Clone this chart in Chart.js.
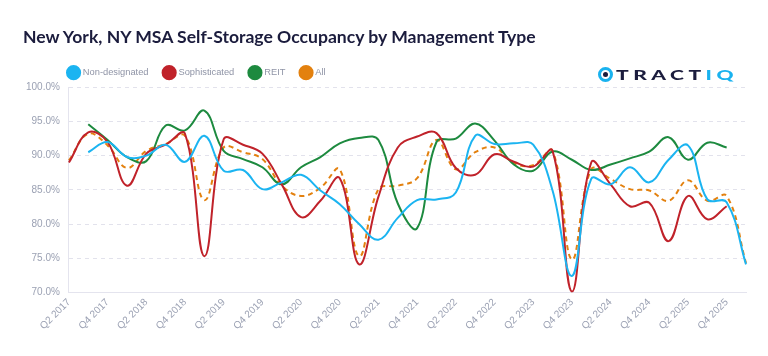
<!DOCTYPE html>
<html>
<head>
<meta charset="utf-8">
<script src="https://cdn.jsdelivr.net/npm/chart.js@4/dist/chart.umd.min.js"></script>
<style>
  html, body { margin: 0; padding: 0; background: #ffffff; }
  #wrap { position: relative; width: 768px; height: 356px; overflow: hidden; }
  #title { position: absolute; left: 23px; top: 26px; font-family: Lato, "Open Sans", sans-serif; font-weight: 700; font-size: 16.5px; color: #1b1c3d; white-space: nowrap; }
  #logo { position: absolute; left: 598px; top: 65px; height: 18px; display: flex; align-items: center; }
  #logo .icon { width: 9px; height: 9px; border-radius: 50%; border: 3px solid #19b2ef; position: relative; box-sizing: content-box; }
  #logo .icon::after { content: ""; position: absolute; left: 2px; top: 2px; width: 5px; height: 5px; border-radius: 50%; background: #1b1c3d; }
  #logo .txt { margin-left: 3px; font-family: Lato, "Open Sans", sans-serif; font-weight: 900; font-size: 14px; letter-spacing: 3px; color: #1b1c3d; white-space: nowrap; transform-origin: left center; display: inline-block; }
  #logo .txt b { color: #19b2ef; font-weight: 900; }
  canvas { position: absolute; left: 0; top: 0; }
</style>
</head>
<body>
<div id="wrap">
  <canvas id="c" width="768" height="356"></canvas>
  <div id="title">New York, NY MSA Self-Storage Occupancy by Management Type</div>
  <div id="logo"><span class="icon"></span><span class="txt" id="logotxt">TRACT<b>IQ</b></span></div>
</div>
<script>
const quarters = ["Q2 2017","Q3 2017","Q4 2017","Q1 2018","Q2 2018","Q3 2018","Q4 2018","Q1 2019","Q2 2019","Q3 2019","Q4 2019","Q1 2020","Q2 2020","Q3 2020","Q4 2020","Q1 2021","Q2 2021","Q3 2021","Q4 2021","Q1 2022","Q2 2022","Q3 2022","Q4 2022","Q1 2023","Q2 2023","Q3 2023","Q4 2023","Q1 2024","Q2 2024","Q3 2024","Q4 2024","Q1 2025","Q2 2025","Q3 2025","Q4 2025","Q1 2026"];

const nonDesignated = [null,90.5,92.0,89.8,90.0,91.6,89.1,92.9,87.8,87.9,85.1,86.1,87.2,84.9,82.9,80.0,77.7,80.9,83.5,83.6,84.6,92.9,91.7,91.8,91.6,84.9,72.4,86.6,85.8,88.3,86.1,89.4,91.5,83.6,83.2,74.1];
const sophisticated = [89.0,93.4,92.0,85.6,90.3,91.6,93.2,75.3,92.4,91.6,90.3,85.8,81.0,83.4,86.7,74.1,84.0,91.2,92.8,93.3,88.2,87.2,90.2,89.1,88.4,90.7,70.1,89.0,85.8,82.6,83.1,77.5,84.1,80.7,82.6,null];
const reit = [null,94.6,92.3,89.8,89.2,94.4,93.7,96.6,90.7,89.5,88.3,85.8,88.3,89.8,91.8,92.6,92.3,83.0,79.4,92.0,92.5,94.7,92.2,88.7,87.8,90.6,89.4,87.9,88.7,89.6,90.6,92.7,89.4,91.9,91.2,null];
const allTypes = [89.3,93.2,91.5,88.2,90.7,91.7,92.9,83.5,91.2,90.5,89.5,85.6,84.1,85.3,88.0,75.3,85.1,85.6,86.7,92.3,88.0,90.5,91.2,88.9,88.6,90.7,74.8,88.0,86.6,85.1,84.9,83.4,86.4,83.4,84.1,74.3];

const seriesNames = ["Non-designated","Sophisticated","REIT","All"];
const seriesColors = ["#1bb4f1","#c0222a","#1d8a3f","#e3810f"];
const yTicks = [70,75,80,85,90,95,100];

// fit title and logo text widths
(function(){
  const ti = document.getElementById('title');
  const tw = ti.getBoundingClientRect().width;
  ti.style.fontSize = (16.5 * 513 / tw).toFixed(2) + 'px';
  const t = document.getElementById('logotxt');
  const w = t.getBoundingClientRect().width;
  t.style.transform = 'scaleX(' + (122 / w) + ')';
})();

const seriesData = [nonDesignated, sophisticated, reit, allTypes];
const datasets = seriesData.map((d, k) => ({
  label: seriesNames[k],
  data: d,
  borderColor: seriesColors[k],
  backgroundColor: seriesColors[k],
  borderWidth: 2,
  borderDash: k === 3 ? [5, 4] : [],
  pointRadius: 0,
  pointHoverRadius: 0,
  pointStyle: 'circle',
  tension: 0.4,
  fill: false
}));

// move the legend so that it starts at the plot's left edge
const legendShift = {
  id: 'legendShift',
  afterLayout(chart) {
    const lg = chart.legend;
    if (lg) {
      const dx = chart.chartArea.left - lg.left - lg.options.labels.padding;
      lg.left += dx;
      lg.right += dx;
    }
  }
};

new Chart(document.getElementById('c'), {
  type: 'line',
  data: { labels: quarters, datasets },
  plugins: [legendShift],
  options: {
    responsive: false,
    animation: false,
    layout: { padding: { top: 52, left: 17, right: 22, bottom: 20 } },
    plugins: {
      legend: {
        position: 'top',
        align: 'start',
        labels: {
          usePointStyle: true,
          pointStyle: 'circle',
          boxWidth: 10,
          boxHeight: 10,
          padding: 16,
          color: '#8f94a6',
          font: { size: 9.3, family: "'Liberation Sans', Arial, sans-serif" }
        }
      },
      tooltip: { enabled: false }
    },
    scales: {
      x: {
        type: 'category',
        offset: false,
        grid: { display: false, drawTicks: false },
        border: { display: true, color: '#e4e4ee', width: 1 },
        ticks: {
          autoSkip: false,
          maxRotation: 45,
          minRotation: 45,
          padding: 4,
          color: '#9ba1b3',
          font: { size: 10, family: "'Liberation Sans', Arial, sans-serif" },
          callback: function(v, i) { return i % 2 === 0 ? quarters[i] : null; }
        }
      },
      y: {
        min: yTicks[0],
        max: yTicks[yTicks.length - 1],
        afterBuildTicks: function(scale) { scale.ticks = yTicks.map(v => ({ value: v })); },
        grid: { color: '#e2e2ec', drawTicks: false },
        border: { display: true, color: '#e4e4ee', dash: [4, 4], width: 1 },
        ticks: {
          padding: 9,
          color: '#9ba1b3',
          font: { size: 10, family: "'Liberation Sans', Arial, sans-serif" },
          callback: function(v) { return v.toFixed(1) + '%'; }
        }
      }
    }
  }
});
</script>
</body>
</html>
